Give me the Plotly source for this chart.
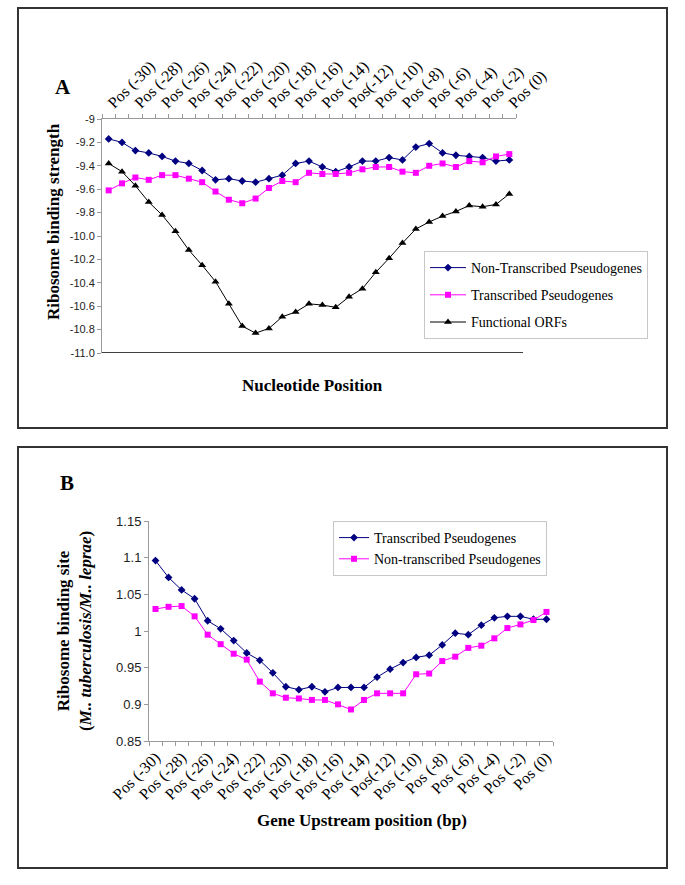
import plotly.graph_objects as go

positions = list(range(-30, 1))
tick_positions = list(range(-30, 1, 2))
tick_labels = ["Pos (-30)", "Pos (-28)", "Pos (-26)", "Pos (-24)", "Pos (-22)", "Pos (-20)",
               "Pos (-18)", "Pos (-16)", "Pos (-14)", "Pos(-12)", "Pos (-10)", "Pos (-8)",
               "Pos (-6)", "Pos (-4)", "Pos (-2)", "Pos (0)"]

# Panel A
a_non_transcribed = [-9.17, -9.20, -9.27, -9.29, -9.32, -9.36, -9.38, -9.44, -9.52, -9.51,
                     -9.53, -9.54, -9.51, -9.48, -9.38, -9.36, -9.41, -9.45, -9.41, -9.36,
                     -9.36, -9.33, -9.35, -9.24, -9.21, -9.29, -9.31, -9.32, -9.33, -9.36, -9.35]
a_transcribed = [-9.61, -9.55, -9.50, -9.52, -9.48, -9.48, -9.51, -9.54, -9.62, -9.69,
                 -9.72, -9.68, -9.59, -9.53, -9.54, -9.46, -9.47, -9.47, -9.46, -9.43,
                 -9.41, -9.41, -9.45, -9.46, -9.40, -9.38, -9.41, -9.36, -9.37, -9.32, -9.30]
a_functional = [-9.38, -9.45, -9.57, -9.71, -9.82, -9.96, -10.12, -10.25, -10.39, -10.58,
                -10.77, -10.83, -10.79, -10.69, -10.65, -10.58, -10.59, -10.61, -10.52, -10.45,
                -10.31, -10.19, -10.06, -9.94, -9.88, -9.83, -9.79, -9.74, -9.75, -9.73, -9.64]
a_yticks = [-9.0, -9.2, -9.4, -9.6, -9.8, -10.0, -10.2, -10.4, -10.6, -10.8, -11.0]
a_yticklabels = ["-9", "-9.2", "-9.4", "-9.6", "-9.8", "-10.0", "-10.2", "-10.4", "-10.6", "-10.8", "-11.0"]

# Panel B
b_transcribed = [1.096, 1.073, 1.056, 1.044, 1.014, 1.003, 0.987, 0.970, 0.960, 0.943,
                 0.924, 0.920, 0.924, 0.917, 0.923, 0.923, 0.923, 0.937, 0.948, 0.957,
                 0.964, 0.967, 0.981, 0.997, 0.995, 1.008, 1.018, 1.020, 1.020, 1.016, 1.016]
b_non_transcribed = [1.030, 1.033, 1.034, 1.020, 0.995, 0.982, 0.969, 0.961, 0.931, 0.915,
                     0.909, 0.908, 0.906, 0.906, 0.900, 0.893, 0.906, 0.915, 0.915, 0.915,
                     0.941, 0.942, 0.959, 0.965, 0.977, 0.980, 0.990, 1.004, 1.009, 1.015, 1.026]
b_yticks = [0.85, 0.9, 0.95, 1.0, 1.05, 1.1, 1.15]
b_yticklabels = ["0.85", "0.9", "0.95", "1", "1.05", "1.1", "1.15"]

W, H = 685, 885
NAVY = "#000080"
MAGENTA = "#FF00FF"
SERIF = "Liberation Serif"
SANS = "Liberation Sans"
AXIS_GRAY = "#9a9a9a"


def px(x):
    return x / W


def py(y):
    return 1 - y / H


fig = go.Figure()

# ---- Panel A traces ----
fig.add_trace(go.Scatter(x=positions, y=a_non_transcribed, mode="lines+markers",
                         name="Non-Transcribed Pseudogenes", legendgroup="a1",
                         line=dict(color=NAVY, width=1),
                         marker=dict(symbol="diamond", size=6, color=NAVY),
                         xaxis="x", yaxis="y", legend="legend"))
fig.add_trace(go.Scatter(x=positions, y=a_transcribed, mode="lines+markers",
                         name="Transcribed Pseudogenes", legendgroup="a2",
                         line=dict(color=MAGENTA, width=1),
                         marker=dict(symbol="square", size=6, color=MAGENTA),
                         xaxis="x", yaxis="y", legend="legend"))
fig.add_trace(go.Scatter(x=positions, y=a_functional, mode="lines+markers",
                         name="Functional ORFs", legendgroup="a3",
                         line=dict(color="black", width=1),
                         marker=dict(symbol="triangle-up", size=7, color="black"),
                         xaxis="x", yaxis="y", legend="legend"))

# ---- Panel B traces ----
fig.add_trace(go.Scatter(x=positions, y=b_transcribed, mode="lines+markers",
                         name="Transcribed Pseudogenes",
                         line=dict(color=NAVY, width=1),
                         marker=dict(symbol="diamond", size=6, color=NAVY),
                         xaxis="x2", yaxis="y2", legend="legend2"))
fig.add_trace(go.Scatter(x=positions, y=b_non_transcribed, mode="lines+markers",
                         name="Non-transcribed Pseudogenes",
                         line=dict(color=MAGENTA, width=1),
                         marker=dict(symbol="square", size=6, color=MAGENTA),
                         xaxis="x2", yaxis="y2", legend="legend2"))

common_x = dict(
    range=[-30.5, 0.5], tickmode="array", tickvals=tick_positions, ticktext=tick_labels,
    tickangle=-45, ticks="", showgrid=False, zeroline=False, automargin=False,
    showline=True, linecolor=AXIS_GRAY, linewidth=1,
    tickfont=dict(family=SERIF, size=16, color="black"),
    minor=dict(tick0=-30.5, dtick=1, ticks="outside", ticklen=4,
               tickcolor=AXIS_GRAY, showgrid=False),
)

ann_common = dict(xref="paper", yref="paper", showarrow=False, xanchor="center", yanchor="middle")

fig.update_layout(
    width=W, height=H,
    margin=dict(l=0, r=0, t=0, b=0, pad=0),
    paper_bgcolor="white", plot_bgcolor="white",
    showlegend=True,
    xaxis=dict(common_x, domain=[px(102), px(516)], anchor="y", side="top"),
    yaxis=dict(domain=[py(353), py(119)], anchor="x", range=[-11.0, -9.0],
               tickmode="array", tickvals=a_yticks, ticktext=a_yticklabels,
               ticks="outside", ticklen=4, tickcolor=AXIS_GRAY, automargin=False,
               showline=True, linecolor=AXIS_GRAY, linewidth=1,
               showgrid=False, zeroline=False,
               tickfont=dict(family=SANS, size=11, color="#222")),
    xaxis2=dict(common_x, domain=[px(149), px(553)], anchor="y2", side="bottom"),
    yaxis2=dict(domain=[py(741), py(521)], anchor="x2", range=[0.85, 1.15],
                tickmode="array", tickvals=b_yticks, ticktext=b_yticklabels,
                ticks="outside", ticklen=4, tickcolor=AXIS_GRAY, automargin=False,
                showline=True, linecolor=AXIS_GRAY, linewidth=1,
                showgrid=False, zeroline=False,
                tickfont=dict(family=SANS, size=13, color="#222")),
    legend=dict(x=px(424), y=py(251), xanchor="left", yanchor="top",
                bgcolor="white", bordercolor="#c8c8c8", borderwidth=1,
                font=dict(family=SERIF, size=14, color="black"),
                traceorder="grouped", tracegroupgap=6,
                itemwidth=36),
    legend2=dict(x=px(333), y=py(521), xanchor="left", yanchor="top",
                 bgcolor="white", bordercolor="#c8c8c8", borderwidth=1,
                 font=dict(family=SERIF, size=14, color="black"),
                 itemwidth=30),
    shapes=[
        # frames around panels
        dict(type="rect", xref="paper", yref="paper", x0=px(18), x1=px(667), y0=py(428), y1=py(8),
             line=dict(color="#333", width=2)),
        dict(type="rect", xref="paper", yref="paper", x0=px(18), x1=px(667), y0=py(868), y1=py(447),
             line=dict(color="#333", width=2)),
        # black base line under panel A
        dict(type="line", xref="paper", yref="y", x0=px(102), x1=px(523), y0=-11.0, y1=-11.0,
             line=dict(color="black", width=1.5)),
    ],
    annotations=[
        dict(ann_common, text="<b>A</b>", x=px(63), y=py(87),
             font=dict(family=SERIF, size=21, color="black")),
        dict(ann_common, text="<b>B</b>", x=px(67), y=py(483),
             font=dict(family=SERIF, size=21, color="black")),
        dict(ann_common, text="<b>Ribosome binding strength</b>", x=px(53), y=py(222),
             textangle=-90, font=dict(family=SERIF, size=17, color="black")),
        dict(ann_common, text="<b>Nucleotide Position</b>", x=px(312), y=py(386),
             font=dict(family=SERIF, size=17, color="black")),
        dict(ann_common, text="<b>Ribosome binding site</b><br><b>(<i>M.. tuberculosis/M.. leprae</i>)</b>",
             x=px(74), y=py(631), textangle=-90,
             font=dict(family=SERIF, size=17, color="black")),
        dict(ann_common, text="<b>Gene Upstream position (bp)</b>", x=px(362), y=py(820),
             font=dict(family=SERIF, size=17, color="black")),
    ],
)

fig.write_html("out.html", config={"displayModeBar": False},
               post_script="document.body.style.margin='0';")
